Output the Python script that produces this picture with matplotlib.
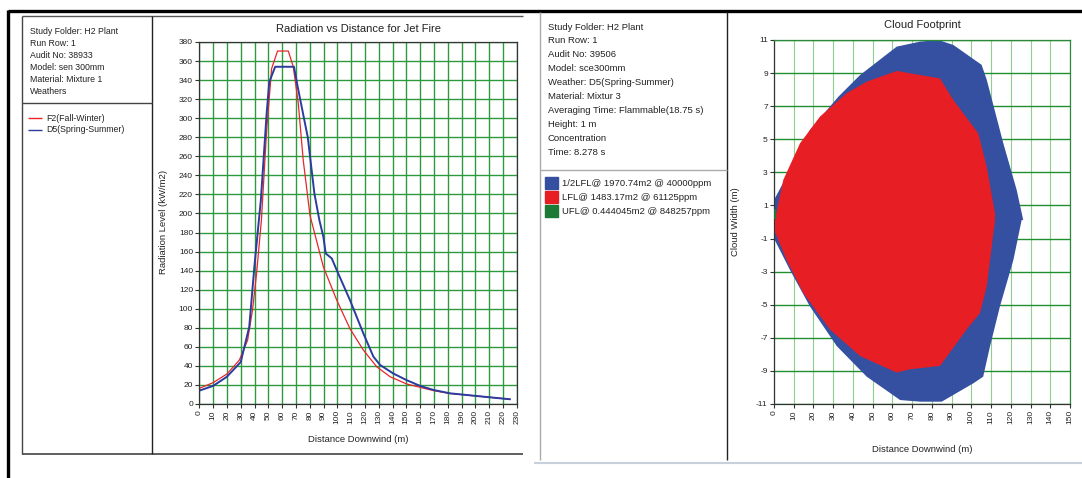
import matplotlib
matplotlib.use("Agg")
import matplotlib.pyplot as plt
from matplotlib.patches import Rectangle

plt.rcParams['font.family'] = ['Liberation Sans', 'DejaVu Sans']
plt.rcParams['axes.unicode_minus'] = False

# --- radiation vs distance (jet fire) ---
f2_x = [0, 10, 20, 29, 35, 38.6, 41.5, 45, 48.8, 52.4, 56.7, 64.5, 68.1, 71.7, 75.3, 80.2,
        89.9, 99.6, 109.2, 118.9, 128.6, 138.3, 150.3, 169.8, 181.7, 201, 210.7, 225]
f2_y = [16.4, 22.4, 31.5, 46, 67, 99, 137, 193, 287, 352, 370.5, 370.5, 354, 316, 256, 198,
        144, 109, 79, 56.6, 39, 28.6, 21, 14, 11, 8.4, 7, 5]
d5_x = [0, 10, 20, 30, 36.2, 39.9, 44.6, 48.8, 50.7, 55, 68.6, 71.3, 78.6, 83.4, 87,
        89.9, 91.6, 96, 99.6, 109.2, 118.9, 126.2, 131, 140.6, 150.3, 160, 169.8, 181.7,
        201, 210.7, 225]
d5_y = [14, 19, 28.6, 44, 81, 144, 214, 305, 338, 354, 354, 333, 280, 221, 193,
        175.5, 158, 152.8, 140.5, 109, 74, 49.6, 41, 32, 25, 19, 14.7, 11.2,
        8.4, 7, 5]

# --- cloud footprint ---
half_lfl_x = [0, 9, 18.2, 32.6, 43.6, 62.2, 74, 83.3, 90.9, 105.2, 107.8, 116.2, 123, 126.3,
              125.5, 121.3, 114.5, 109.5, 106, 101, 85, 74, 63.9, 47, 31.8, 18.2, 8.1, 0]
half_lfl_w = [1.33, 3.34, 5.56, 7.57, 8.88, 10.6, 10.9, 11.0, 10.7, 9.5, 8.6, 4.76, 1.93, 0.12,
              0.12, -2.3, -5.1, -7.5, -9.35, -9.75, -10.86, -10.86, -10.76, -9.35, -7.5, -5.1, -2.9, -1.0]
lfl_x = [0.5, 4.7, 13.2, 23.3, 36.8, 47, 62.2, 70.6, 84.1, 90.9, 103.5, 107.8, 112,
         112, 107.8, 104.4, 97.6, 84.1, 68.9, 62.2, 43.6, 28.4, 14.9, 6.4, 0.5]
lfl_w = [0.12, 2.54, 4.76, 6.37, 7.78, 8.48, 9.13, 8.95, 8.68, 7.37, 5.36, 3.34, 0.52,
         0.12, -3.9, -5.5, -6.5, -8.7, -8.9, -9.1, -8.1, -6.5, -4.3, -2.3, -0.6]
ufl_x = [0, 0.8, 0.8, 0]
ufl_w = [0.2, 0.2, 0.8, 0.8]

left_info = ["Study Folder: H2 Plant", "Run Row: 1", "Audit No: 38933",
             "Model: sen 300mm", "Material: Mixture 1", "Weathers"]
right_info = ["Study Folder: H2 Plant", "Run Row: 1", "Audit No: 39506", "Model: sce300mm",
              "Weather: D5(Spring-Summer)", "Material: Mixtur 3",
              "Averaging Time: Flammable(18.75 s)", "Height: 1 m", "Concentration",
              "Time: 8.278 s"]
legend_right = ["1/2LFL@ 1970.74m2 @ 40000ppm", "LFL@ 1483.17m2 @ 61125ppm",
                "UFL@ 0.444045m2 @ 848257ppm"]

RED = '#e8262a'
BLUE = '#2b3c9e'
FILL_BLUE = '#3550a0'
FILL_RED = '#e81e25'
GREEN = '#1a7a36'
GRID = '#2e9a3e'

W, H = 1082, 478
fig = plt.figure(figsize=(W / 100, H / 100), dpi=100)

# overlay in pixel coordinates for frames and text
ov = fig.add_axes([0, 0, 1, 1], zorder=0)
ov.set_xlim(0, W)
ov.set_ylim(H, 0)
ov.axis('off')

def seg(x0, y0, x1, y1, c='#333333', lw=1.0):
    ov.plot([x0, x1], [y0, y1], color=c, lw=lw, solid_capstyle='butt')

seg(8, 10, 8, H, 'black', 2.4)
seg(8, 11, W, 11, 'black', 2.4)
# left panel frame
seg(22, 16, 523, 16, '#555555', 1.0)
seg(22, 16, 22, 454, '#444444', 1.0)
seg(22, 454, 523, 454, '#444444', 1.2)
seg(152, 16, 152, 454, '#222222', 1.0)
seg(22, 103, 152, 103, '#444444', 1.0)
# right panel frame
seg(540, 12, 540, 460, '#aaaaaa', 1.0)
seg(727, 12, 727, 460, '#222222', 1.0)
seg(534, 463, W, 463, '#c8d0dc', 1.5)
seg(540, 170, 727, 170, '#aaaaaa', 1.0)

for i, t in enumerate(left_info):
    ov.text(30, 31 + i * 12, t, fontsize=6.3, color='#222222', va='center', ha='left')
for i, (lab, c) in enumerate([("F2(Fall-Winter)", RED), ("D5(Spring-Summer)", BLUE)]):
    yy = 118 + i * 12
    seg(28, yy, 42, yy, c, 1.0)
    ov.text(46, yy, lab, fontsize=6.3, color='#222222', va='center', ha='left')

for i, t in enumerate(right_info):
    ov.text(548, 27 + i * 13.9, t, fontsize=6.8, color='#222222', va='center', ha='left')
for i, (t, c) in enumerate(zip(legend_right, [FILL_BLUE, FILL_RED, GREEN])):
    yy = 183 + i * 14
    ov.add_patch(Rectangle((545, yy - 6), 13, 12, color=c))
    ov.text(562, yy, t, fontsize=6.8, color='#222222', va='center', ha='left')

ov.text(358, 29, "Radiation vs Distance for Jet Fire", fontsize=8, ha='center', va='center', color='#222222')
ov.text(922, 25, "Cloud Footprint", fontsize=8, ha='center', va='center', color='#222222')
ov.text(358, 440, "Distance Downwind (m)", fontsize=6.8, ha='center', va='center', color='#222222')
ov.text(922, 450, "Distance Downwind (m)", fontsize=6.8, ha='center', va='center', color='#222222')
ov.text(163, 222, "Radiation Level (kW/m2)", fontsize=6.8, rotation=90, ha='center', va='center', color='#222222')
ov.text(736, 222, "Cloud Width (m)", fontsize=6.8, rotation=90, ha='center', va='center', color='#222222')

def fig_rect(x0, x1, ytop, ybot):
    return [x0 / W, (H - ybot) / H, (x1 - x0) / W, (ybot - ytop) / H]

# left chart
ax1 = fig.add_axes(fig_rect(199.3, 516.7, 42, 404), zorder=1)
ax1.set_xlim(0, 230)
ax1.set_ylim(0, 380)
ax1.set_xticks(range(0, 231, 10))
ax1.set_yticks(range(0, 381, 20))
ax1.set_xticklabels([str(v) for v in range(0, 231, 10)], rotation=90)
ax1.tick_params(labelsize=6, length=3, width=0.8, color='#333333', pad=1.5, labelcolor='#222222')
ax1.grid(True, color=GRID, lw=1.0)
ax1.set_axisbelow(True)
for s in ax1.spines.values():
    s.set_color('#333333')
    s.set_linewidth(0.9)
ax1.plot(f2_x, f2_y, color=RED, lw=0.9)
ax1.plot(d5_x, d5_y, color=BLUE, lw=1.4)

# right chart
ax2 = fig.add_axes(fig_rect(774, 1070, 40, 404), zorder=1)
ax2.set_xlim(0, 150)
ax2.set_ylim(-11, 11)
ax2.set_xticks(range(0, 151, 10))
ax2.set_yticks(range(-11, 12, 2))
ax2.set_xticklabels([str(v) for v in range(0, 151, 10)], rotation=90)
ax2.tick_params(labelsize=6, length=3, width=0.8, color='#333333', pad=1.5, labelcolor='#222222')
ax2.xaxis.grid(True, color='#8fd08f', lw=0.8)
ax2.yaxis.grid(True, color='#1f9030', lw=1.0)
ax2.set_axisbelow(True)
for k, s in ax2.spines.items():
    s.set_linewidth(0.9)
    s.set_color('#333333' if k in ('left', 'bottom') else '#2a8a3a')
ax2.fill(half_lfl_x, half_lfl_w, color=FILL_BLUE, lw=0, zorder=2)
ax2.fill(lfl_x, lfl_w, color=FILL_RED, lw=0, zorder=3)
ax2.fill(ufl_x, ufl_w, color=GREEN, lw=0, zorder=4)

fig.savefig("out.png", dpi=100)
